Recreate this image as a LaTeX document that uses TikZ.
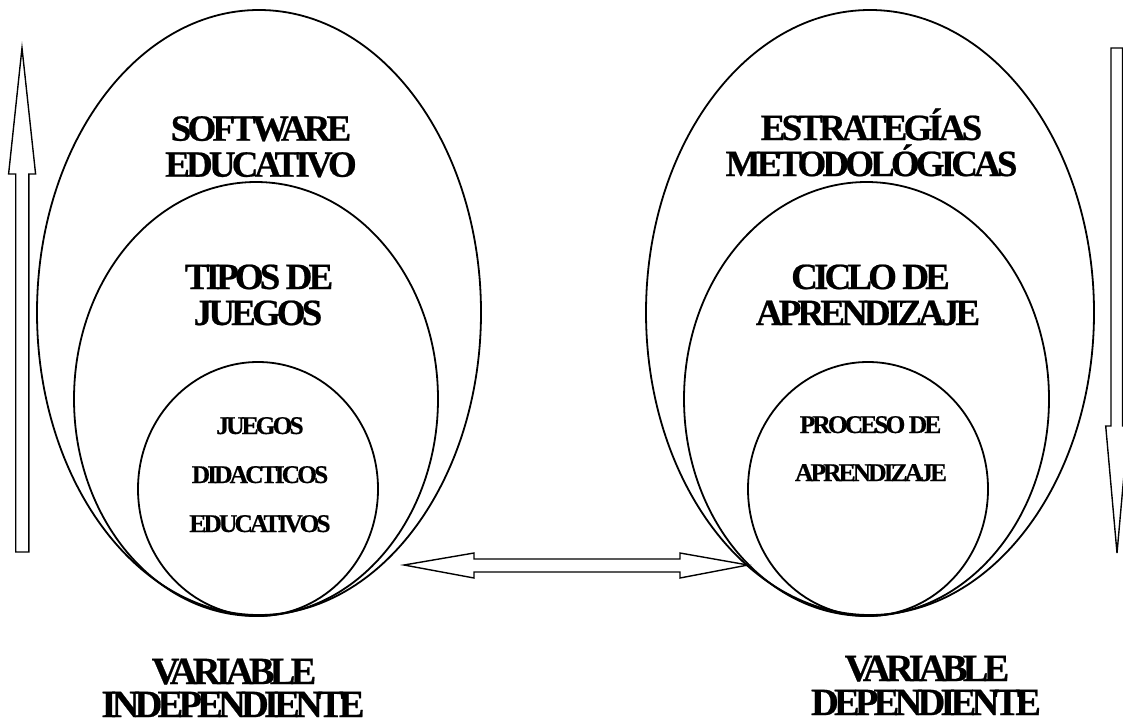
\documentclass[tikz,border=0pt]{standalone}
\usepackage{fontspec}
\usetikzlibrary{shapes.geometric}
\newfontfamily\tnrbig{Liberation Serif}[LetterSpace=-10.5, FakeBold=0.6]
\newfontfamily\tnrsmall{Liberation Serif}[LetterSpace=-11.5, FakeBold=0.5]
\newfontfamily\tnrvar{Liberation Serif}[LetterSpace=-12.5, FakeBold=0.6]
\tikzset{
  ring/.style={draw, ellipse, line width=1.8pt, inner sep=0pt},
  blockarrow/.style={draw, line width=1.4pt, line join=miter, fill=white},
  bigtxt/.style={anchor=base, inner sep=0pt, font=\tnrbig\bfseries\fontsize{37}{37}\selectfont},
  smalltxt/.style={anchor=base, inner sep=0pt, font=\tnrsmall\bfseries\fontsize{25.5}{25.5}\selectfont},
  vartxt/.style={anchor=base, inner sep=0pt, font=\tnrvar\bfseries\fontsize{38.5}{38.5}\selectfont},
}
\begin{document}
\begin{tikzpicture}[x=1pt, y=-1pt]
\useasboundingbox (0,0) rectangle (1123,723);
\fill[white] (0,0) rectangle (1123,723);

% left group
\node[ring, minimum width=444pt, minimum height=605pt] (lo) at (259,312.5) {};
\node[ring, minimum width=364pt, minimum height=434pt] (lm) at (256,399) {};
\node[ring, minimum width=240pt, minimum height=254pt] (li) at (258,489) {};

% right group
\node[ring, minimum width=448pt, minimum height=605pt] (ro) at (870,312.5) {};
\node[ring, minimum width=365pt, minimum height=434pt] (rm) at (866.5,399) {};
\node[ring, minimum width=240pt, minimum height=254pt] (ri) at (868,489) {};

% texts
\node[bigtxt] (t1a) at (261,140.7) {SOFTWARE};
\node[bigtxt] (t1b) at (261,176.7) {EDUCATIVO};
\node[bigtxt] (t2a) at (259,289) {TIPOS DE};
\node[bigtxt] (t2b) at (258,325) {JUEGOS};
\node[smalltxt] (t3a) at (260,434) {JUEGOS};
\node[smalltxt] (t3b) at (260,483) {DIDACTICOS};
\node[smalltxt] (t3c) at (260,532) {EDUCATIVOS};

\node[bigtxt] (s1a) at (871.5,140) {ESTRATEGÍAS};
\node[bigtxt] (s1b) at (871.5,176) {METODOLÓGICAS};
\node[bigtxt] (s2a) at (870.5,289) {CICLO DE};
\node[bigtxt] (s2b) at (868,325) {APRENDIZAJE};
\node[smalltxt] (s3a) at (870.5,433) {PROCESO DE};
\node[smalltxt] (s3b) at (871,481) {APRENDIZAJE};

\node[vartxt] (v1a) at (234,684) {VARIABLE};
\node[vartxt] (v1b) at (233,717) {INDEPENDIENTE};
\node[vartxt] (v2a) at (927,681) {VARIABLE};
\node[vartxt] (v2b) at (926,715) {DEPENDIENTE};

% up arrow (left)
\draw[blockarrow] (15.7,552) -- (15.7,174) -- (8.6,174) -- (22,48) -- (35.6,174) -- (28.8,174) -- (28.8,552) -- cycle;
% down arrow (right)
\draw[blockarrow] (1111,48) -- (1111,426) -- (1105.7,426) -- (1117,553) -- (1128.3,426) -- (1122.5,426) -- (1122.5,48) -- cycle;
% double arrow (between groups)
\coordinate (dl) at (404,565);
\coordinate (dr) at (748,565);
\draw[blockarrow] (dl) -- (474,553) -- (474,559) -- (680,559) -- (680,553) -- (dr) -- (680,578) -- (680,572) -- (474,572) -- (474,578) -- cycle;
\end{tikzpicture}
\end{document}
